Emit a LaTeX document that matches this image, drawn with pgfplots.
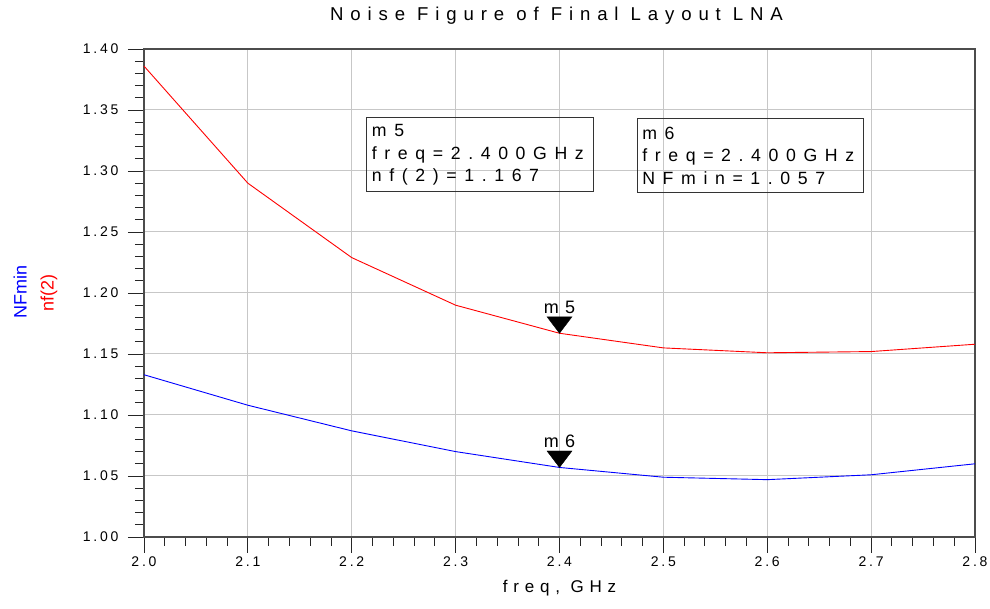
\documentclass[border=0pt]{standalone}
\usepackage{fontspec}
\setmainfont{Liberation Sans}
\newfontfamily\adsA[LetterSpace=20]{Liberation Sans}
\newfontfamily\adsB[LetterSpace=34]{Liberation Sans}
\newfontfamily\adsT[LetterSpace=37]{Liberation Sans}
\newfontfamily\adsC[LetterSpace=43]{Liberation Sans}
\usepackage{pgfplots}
\pgfplotsset{compat=1.18}

% ADS style marker: filled triangle with its tip on the data point
\pgfdeclareplotmark{mdown}{%
  \pgfpathmoveto{\pgfpoint{0pt}{0pt}}%
  \pgfpathlineto{\pgfpoint{-12.5pt}{16.5pt}}%
  \pgfpathlineto{\pgfpoint{12.5pt}{16.5pt}}%
  \pgfpathclose\pgfusepathqfillstroke}

\pgfplotstableread{
freq   nf2    NFmin
2.0    1.386  1.133
2.1    1.290  1.108
2.2    1.229  1.087
2.3    1.190  1.070
2.4    1.167  1.057
2.5    1.155  1.049
2.6    1.151  1.047
2.7    1.152  1.051
2.8    1.158  1.060
}\nfdata

\begin{document}
\begin{tikzpicture}
\begin{axis}[
    at={(0,0)}, anchor=south west,
    width=831pt, height=488pt, scale only axis,
    xmin=2.0, xmax=2.8, ymin=1.0, ymax=1.4,
    xtick={2.0,2.1,2.2,2.3,2.4,2.5,2.6,2.7,2.8},
    ytick={1.00,1.05,1.10,1.15,1.20,1.25,1.30,1.35,1.40},
    minor tick num=4,
    xtick pos=bottom, ytick pos=left,
    tick align=outside,
    major tick length=16pt, minor tick length=9pt,
    tick style={black!85, line width=0.9pt},
    axis line style={black!70, line width=1.2pt},
    grid=major,
    major grid style={black!22, line width=1pt},
    /pgf/number format/assume math mode=true,
    xticklabel style={font=\adsA\fontsize{14}{16}\selectfont,
      /pgf/number format/.cd, fixed, fixed zerofill, precision=1},
    yticklabel style={font=\adsA\fontsize{14}{16}\selectfont, xshift=-6pt,
      /pgf/number format/.cd, fixed, fixed zerofill, precision=2},
    title={Noise Figure of Final Layout LNA},
    title style={at={(0.5,1)}, anchor=base, yshift=22pt, xshift=-3pt,
      font=\adsT\fontsize{18.6}{20}\selectfont},
    xlabel={freq, GHz},
    xlabel style={at={(0.5,0)}, anchor=base, yshift=-56pt,
      font=\adsB\fontsize{17}{19}\selectfont},
    clip=false,
  ]
  \addplot[red, line width=0.9pt] table[x=freq, y=nf2] {\nfdata};
  \addplot[blue, line width=0.9pt] table[x=freq, y=NFmin] {\nfdata};

  \addplot[only marks, mark=mdown, mark options={fill=black, draw=black},
    nodes near coords={m5},
    every node near coord/.style={anchor=base, yshift=19.5pt,
      font=\adsB\fontsize{18}{20}\selectfont}]
    coordinates {(2.4,1.167)};
  \addplot[only marks, mark=mdown, mark options={fill=black, draw=black},
    nodes near coords={m6},
    every node near coord/.style={anchor=base, yshift=19.5pt,
      font=\adsB\fontsize{18}{20}\selectfont}]
    coordinates {(2.4,1.057)};

  \node[draw=black!80, line width=0.9pt, anchor=north west, align=left,
    inner sep=5pt, text width=216pt, minimum height=74pt,
    font=\adsC\fontsize{17.7}{22.5}\selectfont]
    at (axis cs:2.2142,1.344) {m5\\freq=2.400GHz\\nf(2)=1.167};
  \node[draw=black!80, line width=0.9pt, anchor=north west, align=left,
    inner sep=5pt, text width=216pt, minimum height=74pt,
    font=\adsC\fontsize{17.7}{22.5}\selectfont]
    at (axis cs:2.4745,1.3434) {m6\\freq=2.400GHz\\NFmin=1.057};

  \node[rotate=90, blue, font=\fontsize{18}{20}\selectfont]
    at (rel axis cs:-0.1492,0.502) {NFmin};
  \node[rotate=90, red, font=\fontsize{18}{20}\selectfont]
    at (rel axis cs:-0.1143,0.5) {nf(2)};
\end{axis}
\pgfresetboundingbox
\path (-144pt,-72pt) rectangle (846pt,537pt);
\end{tikzpicture}
\end{document}
